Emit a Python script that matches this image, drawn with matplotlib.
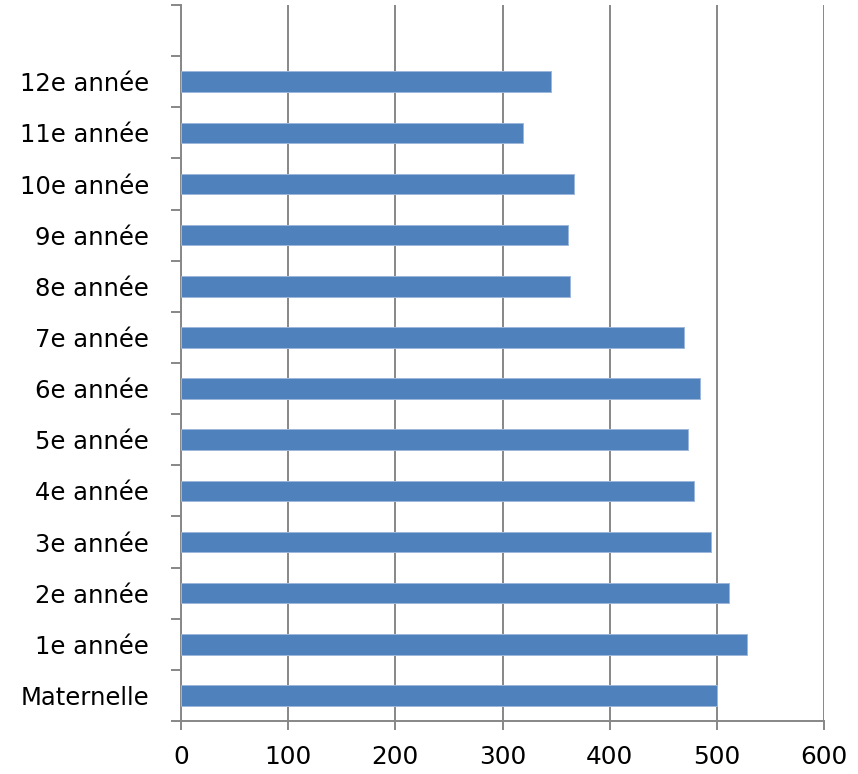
import numpy as np
import matplotlib.pyplot as plt

# données
niveaux = ["Maternelle", "1e année", "2e année", "3e année", "4e année", "5e année",
           "6e année", "7e année", "8e année", "9e année", "10e année", "11e année",
           "12e année"]
valeurs = [500, 528, 511, 495, 479, 473, 484, 469, 363, 361, 367, 319, 345]
x_ticks = [0, 100, 200, 300, 400, 500, 600]

gris = "#878787"

fig = plt.figure(figsize=(8.58, 7.74), dpi=100)
ax = fig.add_axes([181 / 858, 1 - 721 / 774, (824 - 181) / 858, (721 - 5) / 774])

pos = np.arange(len(niveaux))
ax.barh(pos, valeurs, height=0.4, color="#4F81BD", edgecolor="#9DB7DA",
        linewidth=0.7, zorder=3)

ax.set_xlim(0, 600)
ax.set_ylim(-0.5, len(niveaux) + 0.5)
ax.set_xticks(x_ticks)
ax.set_xticklabels([str(v) for v in x_ticks])
ax.set_yticks(pos)
ax.set_yticklabels(niveaux)
ax.set_yticks(np.arange(-0.5, len(niveaux) + 1, 1), minor=True)

ax.grid(axis="x", color=gris, linewidth=1.4, zorder=0)
for s in ["top", "right"]:
    ax.spines[s].set_visible(False)
for s in ["left", "bottom"]:
    ax.spines[s].set_color(gris)
    ax.spines[s].set_linewidth(1.4)

ax.tick_params(axis="y", which="major", length=0, pad=23, labelsize=17.5)
ax.tick_params(axis="y", which="minor", length=7.2, width=1.4, color=gris)
ax.tick_params(axis="x", which="major", length=6.5, width=1.4, color=gris,
               pad=11, labelsize=17.8)

fig.savefig("out.png", dpi=100)
